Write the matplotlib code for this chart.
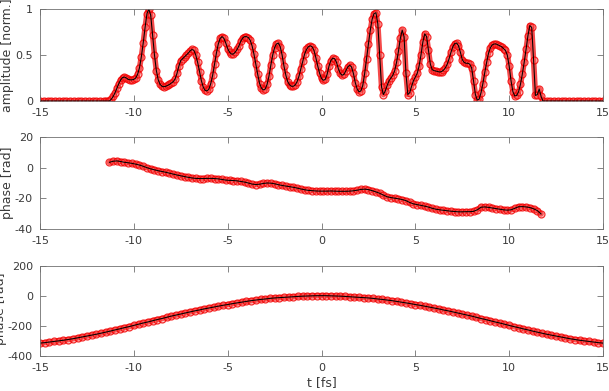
import numpy as np
import matplotlib
matplotlib.use("Agg")
import matplotlib.pyplot as plt

# ---------------- data ----------------
# amplitude [norm.] on a 0.1 fs grid inside the pulse, zero outside
amp_t_lead = [-15.0, -14.8, -14.6, -14.4, -14.2, -14.0, -13.8, -13.6, -13.4, -13.2,
              -13.0, -12.8, -12.6, -12.4, -12.2, -12.0, -11.8, -11.6, -11.5]
amp_lead = [0.0] * len(amp_t_lead)

amp_t_core = [round(-11.4 + 0.1 * i, 1) for i in range(233)]
amp_core = [
    0.0, 0.0, 0.02, 0.05, 0.09, 0.14, 0.19, 0.23, 0.255, 0.26,          # -11.4 .. -10.5
    0.25, 0.235, 0.23, 0.23, 0.235, 0.25, 0.29, 0.36, 0.48, 0.63,       # -10.4 .. -9.5
    0.80, 0.95, 1.0, 0.93, 0.72, 0.50, 0.33, 0.23, 0.18, 0.16,          # -9.4 .. -8.5
    0.155, 0.16, 0.17, 0.18, 0.195, 0.21, 0.24, 0.30, 0.38, 0.44,       # -8.4 .. -7.5
    0.46, 0.48, 0.50, 0.52, 0.545, 0.56, 0.55, 0.50, 0.42, 0.32,        # -7.4 .. -6.5
    0.22, 0.15, 0.115, 0.11, 0.13, 0.19, 0.28, 0.40, 0.52, 0.62,        # -6.4 .. -5.5
    0.68, 0.70, 0.68, 0.63, 0.57, 0.53, 0.51, 0.51, 0.53, 0.56,         # -5.4 .. -4.5
    0.60, 0.65, 0.685, 0.70, 0.70, 0.69, 0.66, 0.60, 0.51, 0.40,        # -4.4 .. -3.5
    0.29, 0.19, 0.14, 0.12, 0.13, 0.18, 0.27, 0.39, 0.50, 0.58,         # -3.4 .. -2.5
    0.62, 0.63, 0.59, 0.50, 0.38, 0.28, 0.21, 0.175, 0.16, 0.16,        # -2.4 .. -1.5
    0.175, 0.21, 0.27, 0.35, 0.43, 0.51, 0.56, 0.59, 0.60, 0.59,        # -1.4 .. -0.5
    0.55, 0.47, 0.38, 0.30, 0.245, 0.225, 0.235, 0.29, 0.38, 0.44,      # -0.4 .. 0.5
    0.465, 0.46, 0.42, 0.35, 0.30, 0.28, 0.29, 0.33, 0.37, 0.39,        # 0.6 .. 1.5
    0.37, 0.30, 0.20, 0.13, 0.10, 0.11, 0.17, 0.30, 0.46, 0.62,         # 1.6 .. 2.5
    0.77, 0.89, 0.95, 0.96, 0.84, 0.50, 0.15, 0.07, 0.11, 0.17,         # 2.6 .. 3.5
    0.22, 0.25, 0.28, 0.33, 0.42, 0.54, 0.68, 0.77, 0.70, 0.30,         # 3.6 .. 4.5
    0.07, 0.09, 0.16, 0.22, 0.26, 0.30, 0.38, 0.50, 0.64, 0.73,         # 4.6 .. 5.5
    0.70, 0.55, 0.40, 0.34, 0.33, 0.325, 0.32, 0.315, 0.32, 0.335,     # 5.6 .. 6.5
    0.36, 0.40, 0.46, 0.53, 0.59, 0.625, 0.63, 0.60, 0.53, 0.45,        # 6.6 .. 7.5
    0.42, 0.41, 0.41, 0.40, 0.36, 0.22, 0.07, 0.01, 0.02, 0.09,         # 7.6 .. 8.5
    0.19, 0.31, 0.42, 0.52, 0.58, 0.61, 0.62, 0.62, 0.61, 0.60,         # 8.6 .. 9.5
    0.59, 0.57, 0.55, 0.50, 0.38, 0.22, 0.10, 0.055, 0.06, 0.10,        # 9.6 .. 10.5
    0.18, 0.29, 0.42, 0.56, 0.71, 0.82, 0.80, 0.45, 0.06, 0.07,         # 10.6 .. 11.5
    0.13, 0.05, 0.0,                                                    # 11.6 .. 11.8
]
amp_t_tail = [12.0, 12.2, 12.4, 12.6, 12.8, 13.0, 13.2, 13.4, 13.6, 13.8,
              14.0, 14.2, 14.4, 14.6, 14.8, 15.0]
amp_tail = [0.0] * len(amp_t_tail)

# temporal phase [rad] on a 0.2 fs grid
ph_t = [round(-11.3 + 0.2 * i, 1) for i in range(116)]
ph_vals = [
    3.5, 4.2, 4.4, 4.0, 3.5, 3.2, 2.8, 2.3, 1.7, 0.9,
    0.0, -0.8, -1.4, -2.0, -2.5, -3.0, -3.6, -4.2, -4.8, -5.3,
    -5.8, -6.3, -6.7, -7.0, -7.1, -7.1, -7.0, -7.0, -7.1, -7.3,
    -7.7, -8.1, -8.3, -8.4, -8.6, -9.0, -9.4, -10.0, -10.7, -11.0,
    -10.8, -10.3, -10.0, -10.1, -10.5, -11.1, -11.6, -12.0, -12.4, -12.8,
    -13.3, -13.9, -14.4, -14.8, -15.0, -15.2, -15.3, -15.3, -15.3, -15.2,
    -15.3, -15.4, -15.4, -15.4, -15.3, -15.1, -14.7, -14.2, -14.0, -14.3,
    -15.0, -15.8, -16.7, -17.9, -19.0, -19.5, -19.9, -20.3, -20.8, -21.5,
    -22.7, -23.6, -24.1, -24.6, -25.1, -25.7, -26.5, -27.1, -27.5, -27.8,
    -28.1, -28.4, -28.6, -28.8, -28.8, -28.7, -28.7, -28.5, -27.5, -25.8,
    -25.6, -25.9, -26.3, -26.7, -27.1, -27.5, -27.7, -27.5, -26.5, -25.5,
    -25.4, -25.6, -26.0, -26.8, -28.0, -30.2,
]

# phase [rad] over the full window, 0.25 fs grid
ph2_t = [round(-15.0 + 0.25 * i, 2) for i in range(121)]
ph2_vals = [
    -314, -311, -307, -303, -299, -295, -290, -285, -279, -273,
    -267, -261, -255, -248, -241, -234, -226, -219, -211, -204,
    -196, -188, -180, -173, -165, -157, -150, -142, -134, -127,
    -120, -113, -106, -99, -93, -86, -80, -74, -68, -62,
    -57, -51, -46, -41, -36, -31, -27, -23, -20, -16,
    -13, -11, -9, -7, -5, -3, -1, 0, 1, 2,
    2,
    2, 1, 0, -1, -3, -5, -7, -9, -11, -13,
    -16, -20, -23, -27, -31, -36, -41, -46, -51, -57,
    -62, -68, -74, -80, -86, -93, -99, -106, -113, -120,
    -127, -134, -142, -150, -157, -165, -173, -180, -188, -196,
    -204, -211, -219, -226, -234, -241, -248, -255, -261, -267,
    -273, -279, -285, -290, -295, -299, -303, -307, -311, -314,
]

xticks = [-15, -10, -5, 0, 5, 10, 15]
yticks_amp = [0, 0.5, 1]
yticks_ph = [-40, -20, 0, 20]
yticks_ph2 = [-400, -200, 0, 200]

# ---------------- figure ----------------
W, H = 609, 391
plt.rcParams["font.family"] = ["DejaVu Sans"]
fig = plt.figure(figsize=(W / 100, H / 100), dpi=100)
fig.patch.set_facecolor("white")

TXT = "#3a3a3a"
AXC = "#707070"


def frac_box(x0, y0, x1, y1):
    return [x0 / W, 1 - y1 / H, (x1 - x0) / W, (y1 - y0) / H]


ax1 = fig.add_axes(frac_box(40, 9, 603, 101))
ax2 = fig.add_axes(frac_box(40, 137, 603, 229))
ax3 = fig.add_axes(frac_box(40, 266, 603, 356))

band = dict(color=(0.95, 0.05, 0.05, 0.75), lw=4.0, solid_capstyle="round",
            solid_joinstyle="round")
mk = dict(marker="o", linestyle="none", ms=5.0, mew=0.9,
          mec=(0.95, 0.0, 0.0, 0.8), mfc=(1.0, 0.45, 0.45, 0.3))
ln = dict(color="black", lw=0.75)

amp_t = amp_t_lead + amp_t_core + amp_t_tail
amp = amp_lead + amp_core + amp_tail

for ax, xs, ys in ((ax1, amp_t, amp), (ax2, ph_t, ph_vals), (ax3, ph2_t, ph2_vals)):
    ax.plot(xs, ys, **band)
    ax.plot(xs, ys, **mk)
    ax.plot(xs, ys, **ln)

for ax, yl, yt in ((ax1, (0, 1), yticks_amp), (ax2, (-40, 20), yticks_ph),
                   (ax3, (-400, 200), yticks_ph2)):
    ax.set_xlim(-15, 15)
    ax.set_ylim(*yl)
    ax.set_xticks(xticks)
    ax.set_xticklabels([str(v) for v in xticks])
    ax.set_yticks(yt)
    ax.set_yticklabels([("%g" % v) for v in yt])
    ax.tick_params(direction="in", top=True, right=True, length=4, width=0.6,
                   color=AXC, labelcolor=TXT, labelsize=8, pad=5)
    for s in ax.spines.values():
        s.set_color(AXC)
        s.set_linewidth(0.6)

# y labels (positioned like the reference, partly cut by the figure edge)
fig.text(8 / W, 1 - 55 / H, "amplitude [norm.]", rotation=90, ha="center",
         va="center", fontsize=9, color=TXT)
fig.text(8 / W, 1 - 183 / H, "phase [rad]", rotation=90, ha="center",
         va="center", fontsize=9, color=TXT)
fig.text(1.0 / W, 1 - 309 / H, "phase [rad]", rotation=90, ha="center",
         va="center", fontsize=9, color=TXT)
fig.text((40 + 603) / 2 / W, 1 - 383 / H, "t [fs]", ha="center", va="center",
         fontsize=9, color=TXT)

fig.savefig("out.png", dpi=100)
